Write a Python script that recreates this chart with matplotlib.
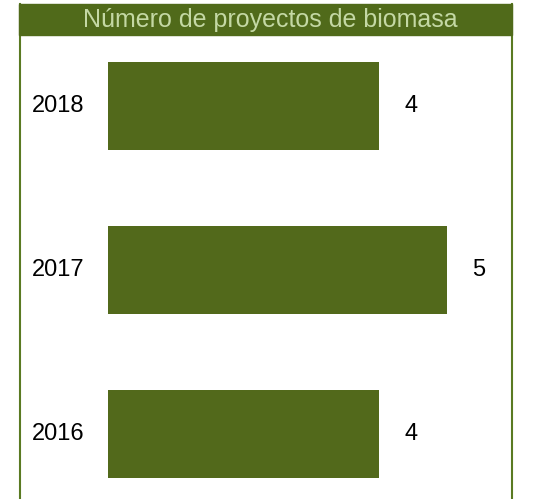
import matplotlib.pyplot as plt
from matplotlib.patches import Rectangle
from matplotlib.lines import Line2D

years = ["2016", "2017", "2018"]
projects = [4, 5, 4]
title = "Número de proyectos de biomasa"

W, H = 537, 499
GREEN = "#52691b"
BORDER = "#5a7a22"
TITLE_TXT = "#c4d8a4"

plt.rcParams["font.family"] = ["Liberation Sans", "DejaVu Sans"]

fig = plt.figure(figsize=(W / 100, H / 100), dpi=100)

# plot area in pixel terms
x0_px, unit_px = 108, 67.8
ax = fig.add_axes([x0_px / W, 0, 1 - x0_px / W, 1 - 35 / H])
ax.set_xlim(0, (W - x0_px) / unit_px)
ax.set_ylim(-0.396, 2.433)
ax.barh(range(len(years)), projects, height=0.537, color=GREEN)
for i, (y, v) in enumerate(zip(years, projects)):
    ax.text(v + 0.47, i, str(v), ha="center", va="center", fontsize=17, color="black")
    ax.text((58.4 - x0_px) / unit_px, i, y, ha="center", va="center", fontsize=17,
            color="black", clip_on=False)
ax.axis("off")

# title band and frame
fig.patches.append(Rectangle((19 / W, 1 - 35 / H), (512 - 19) / W, 31 / H,
                             transform=fig.transFigure, color="#506a1a", zorder=3))
fig.text(270.5 / W, 1 - 26.7 / H, title, ha="center", va="baseline",
         fontsize=18, color=TITLE_TXT, zorder=4)
for xp in (19.5, 512):
    fig.lines.append(Line2D([xp / W, xp / W], [0, 1 - 4 / H], transform=fig.transFigure,
                            color=BORDER, linewidth=1.5, zorder=3))

fig.savefig("out.png", dpi=100)
